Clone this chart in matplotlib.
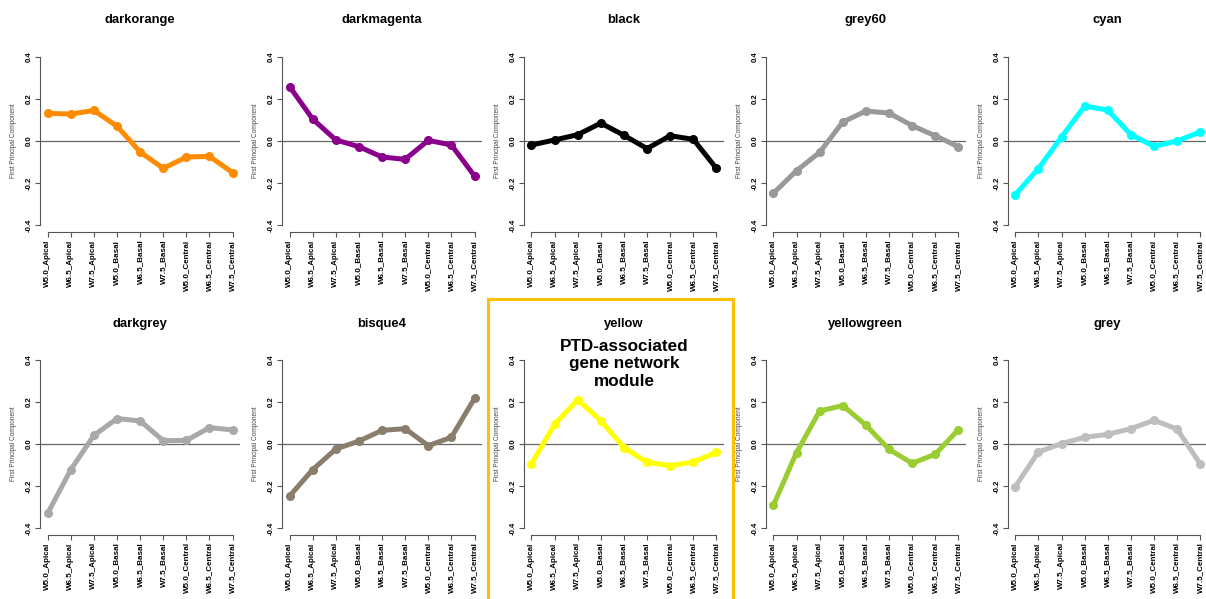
import matplotlib
matplotlib.use("Agg")
import matplotlib.pyplot as plt
from matplotlib.patches import Rectangle

plt.rcParams['font.family'] = ['Liberation Sans', 'DejaVu Sans']

samples = ['W5.0_Apical', 'W6.5_Apical', 'W7.5_Apical',
           'W5.0_Basal', 'W6.5_Basal', 'W7.5_Basal',
           'W5.0_Central', 'W6.5_Central', 'W7.5_Central']

# module eigengenes (first principal component per sample)
darkorange = [0.131, 0.128, 0.145, 0.070, -0.052, -0.130, -0.076, -0.073, -0.150]
darkmagenta = [0.258, 0.104, 0.005, -0.027, -0.076, -0.087, 0.003, -0.019, -0.166]
black = [-0.019, 0.005, 0.030, 0.085, 0.027, -0.036, 0.025, 0.008, -0.130]
grey60 = [-0.248, -0.141, -0.054, 0.090, 0.142, 0.133, 0.073, 0.025, -0.027]
cyan = [-0.255, -0.131, 0.019, 0.166, 0.147, 0.030, -0.025, 0.000, 0.043]
darkgrey = [-0.330, -0.122, 0.041, 0.121, 0.110, 0.016, 0.017, 0.078, 0.067]
bisque4 = [-0.248, -0.122, -0.024, 0.014, 0.065, 0.073, -0.008, 0.032, 0.217]
yellow = [-0.094, 0.094, 0.211, 0.111, -0.017, -0.087, -0.103, -0.086, -0.040]
yellowgreen = [-0.292, -0.041, 0.157, 0.183, 0.090, -0.025, -0.092, -0.049, 0.068]
grey = [-0.203, -0.038, 0.002, 0.032, 0.046, 0.073, 0.113, 0.071, -0.095]

module_names = ['darkorange', 'darkmagenta', 'black', 'grey60', 'cyan',
                'darkgrey', 'bisque4', 'yellow', 'yellowgreen', 'grey']
module_values = [darkorange, darkmagenta, black, grey60, cyan,
                 darkgrey, bisque4, yellow, yellowgreen, grey]
module_colors = ['#FF8C00', '#8B008B', '#000000', '#999999', '#00FFFF',
                 '#A9A9A9', '#8B7D6B', '#FFFF00', '#9ACD32', '#BEBEBE']

W, H = 1206, 599
fig = plt.figure(figsize=(W / 100, H / 100), dpi=100)
fig.patch.set_facecolor('white')


def px_axes(left, top, width, height):
    return fig.add_axes([left / W, 1 - (top + height) / H, width / W, height / H])


axis_col = '#555555'
x = list(range(1, len(samples) + 1))

for i, (name, vals, col) in enumerate(zip(module_names, module_values, module_colors)):
    r, c = divmod(i, 5)
    left = 40.3 + 241.9 * c
    top = 50 if r == 0 else 353.3
    height = 182 if r == 0 else 181.4
    ax = px_axes(left, top, 199.7, height)

    ax.axhline(0, color='#666666', lw=0.9, zorder=1)
    ax.plot(x, vals, color=col, lw=3.6, marker='o', markersize=5.5,
            solid_capstyle='round', zorder=3)

    ax.set_xlim(1 - 0.32, len(samples) + 0.32)
    ax.set_ylim(-0.432, 0.432)
    for s in ['top', 'right']:
        ax.spines[s].set_visible(False)
    ax.spines['left'].set_bounds(-0.4, 0.4)
    ax.spines['bottom'].set_bounds(1, len(samples))
    for s in ['left', 'bottom']:
        ax.spines[s].set_color(axis_col)
        ax.spines[s].set_linewidth(0.8)

    ax.set_yticks([-0.4, -0.2, 0.0, 0.2, 0.4])
    ax.set_yticklabels(['-0.4', '-0.2', '0.0', '0.2', '0.4'], rotation=90,
                       va='center', fontsize=5.6, fontweight='bold')
    ax.set_xticks(x)
    ax.set_xticklabels(samples, rotation=90, fontsize=5.8, fontweight='bold')
    ax.tick_params(direction='out', length=3.5, width=0.8, color=axis_col, pad=2)

    ax.set_ylabel('First Principal Component', fontsize=4.7, color='#444444',
                  labelpad=6.2)

    cx = (left + 99.85) / W
    ty = 20 if r == 0 else 324
    fig.text(cx, 1 - ty / H, name, ha='center', va='center',
             fontsize=9.4, fontweight='bold')

    if name == 'yellow':
        fig.text(cx, 1 - 339 / H, 'PTD-associated\ngene network\nmodule',
                 ha='center', va='top', fontsize=12.3, fontweight='bold',
                 linespacing=1.2, multialignment='center')

# highlight box around the yellow module
fig.patches.append(Rectangle((488 / W, -0.02), (733 - 488) / W, 1 - 299 / H + 0.02,
                             transform=fig.transFigure, fill=False,
                             edgecolor='#FFC000', lw=2.2))

fig.savefig('out.png', dpi=100)
